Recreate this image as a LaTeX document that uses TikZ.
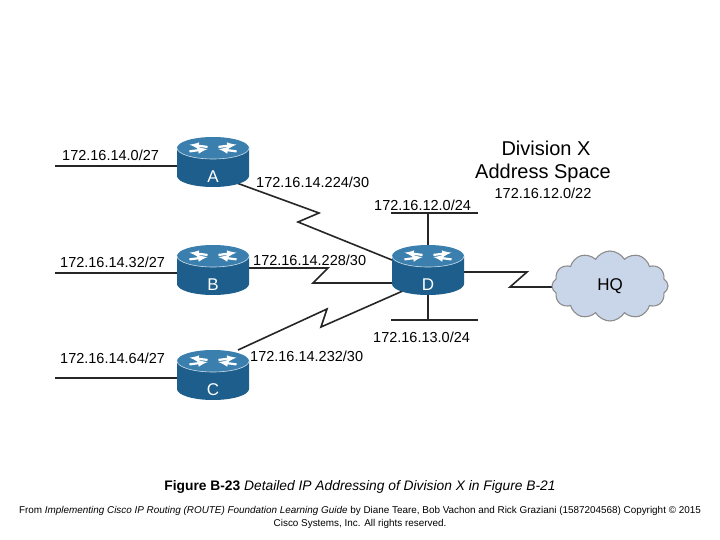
\documentclass[tikz,border=0pt]{standalone}
\usepackage{fontspec}
\setmainfont{Liberation Sans}
\usetikzlibrary{shapes.symbols}
\definecolor{rblue}{HTML}{1D5E8C}
\definecolor{rtop}{HTML}{3A7FAE}
\definecolor{cloudc}{HTML}{C9D6EA}
\begin{document}
\begin{tikzpicture}[x=1pt,y=-1pt,
  lbl/.style={font=\fontsize{14.5}{16}\selectfont,anchor=west,inner sep=0},
  wire/.style={line width=1.6pt,black!85},
  pics/router/.style={code={
    \fill[rblue] (-36,-12) -- (-36,16) arc[start angle=180,end angle=0,x radius=36,y radius=11] -- (36,-12) -- cycle;
    \fill[rtop] (0,-12) ellipse[x radius=36,y radius=11];
    \draw[white!80!rblue,line width=0.6pt] (-36,-12) arc[start angle=180,end angle=0,x radius=36,y radius=11];
    \foreach \a in {25,155}{
      \draw[white,line width=2.2pt,-latex] ({6*cos(\a)},{-12-2.5*sin(\a)}) -- ({26*cos(\a)},{-12-8*sin(\a)});}
    \foreach \a in {205,335}{
      \draw[white,line width=2.2pt,latex-] ({6*cos(\a)},{-12-2.5*sin(\a)}) -- ({26*cos(\a)},{-12-8*sin(\a)});}
    \node[white,font=\fontsize{17}{17}\selectfont,inner sep=0] at (0,17) {#1};
  }}]
\useasboundingbox (0,0) rectangle (720,540);
\fill[white] (0,0) rectangle (720,540);
\coordinate (Aw) at (55,166); \coordinate (Bw) at (55,273); \coordinate (Cw) at (55,378);
\coordinate (Ae) at (177,166); \coordinate (Be) at (177,273); \coordinate (Ce) at (177,378);
\draw[wire] (Aw) -- (Ae);
\draw[wire] (Bw) -- (Be);
\draw[wire] (Cw) -- (Ce);
\coordinate (A) at (213,160); \coordinate (B) at (213,268); \coordinate (C) at (213,373); \coordinate (D) at (428,268);
\coordinate (HQ) at (610,286);
\draw[wire] (234,182) -- (319,213) -- (298,222) -- (392,260);
\draw[wire] (249,268) -- (328,268) -- (313,283) -- (392,283);
\draw[wire] (238,350) -- (327,309) -- (321,327) -- (405,290);
\draw[wire] (462,272) -- (527,272) -- (510,287) -- (560,287);
\draw[wire] (D) -- (428,213); \draw[wire] (391,213) -- (478,213);
\draw[wire] (D) -- (428,320); \draw[wire] (391,320) -- (478,320);
\pic at (A) {router=A};
\pic at (B) {router=B};
\pic at (C) {router=C};
\pic at (D) {router=D};
\node[cloud,cloud puffs=12,cloud puff arc=120,aspect=1.8,fill=cloudc,draw=gray!90,line width=1.1pt,
  minimum width=116,minimum height=70,font=\fontsize{17}{17}\selectfont] (hq) at (HQ) {HQ};
\node[lbl] (l1) at (62,155) {172.16.14.0/27};
\node[lbl] (l2) at (60,262) {172.16.14.32/27};
\node[lbl] (l3) at (60,358) {172.16.14.64/27};
\node[lbl] (l4) at (256,182) {172.16.14.224/30};
\node[lbl] (l5) at (253,260) {172.16.14.228/30};
\node[lbl] (l6) at (250,356) {172.16.14.232/30};
\node[lbl] (l7) at (374,205) {172.16.12.0/24};
\node[lbl] (l8) at (373,337) {172.16.13.0/24};
\node[font=\fontsize{20}{20}\selectfont,inner sep=0] (dx) at (546,148) {Division X};
\node[font=\fontsize{20}{20}\selectfont,inner sep=0] (as) at (543,173) {Address Space};
\node[font=\fontsize{14.5}{16}\selectfont,inner sep=0] (sp) at (543,193) {172.16.12.0/22};
\node[font=\fontsize{13.8}{16}\selectfont,inner sep=0] (cap) at (360,487) {\textbf{Figure B-23} \textit{Detailed IP Addressing of Division X in Figure B-21}};
\node[font=\fontsize{9.9}{13}\selectfont,align=center,inner sep=0] (ft) at (360,517) {From \textit{Implementing Cisco IP Routing (ROUTE) Foundation Learning Guide} by Diane Teare, Bob Vachon and Rick Graziani (1587204568) Copyright © 2015\\Cisco Systems, Inc. All rights reserved.};
\end{tikzpicture}
\end{document}
